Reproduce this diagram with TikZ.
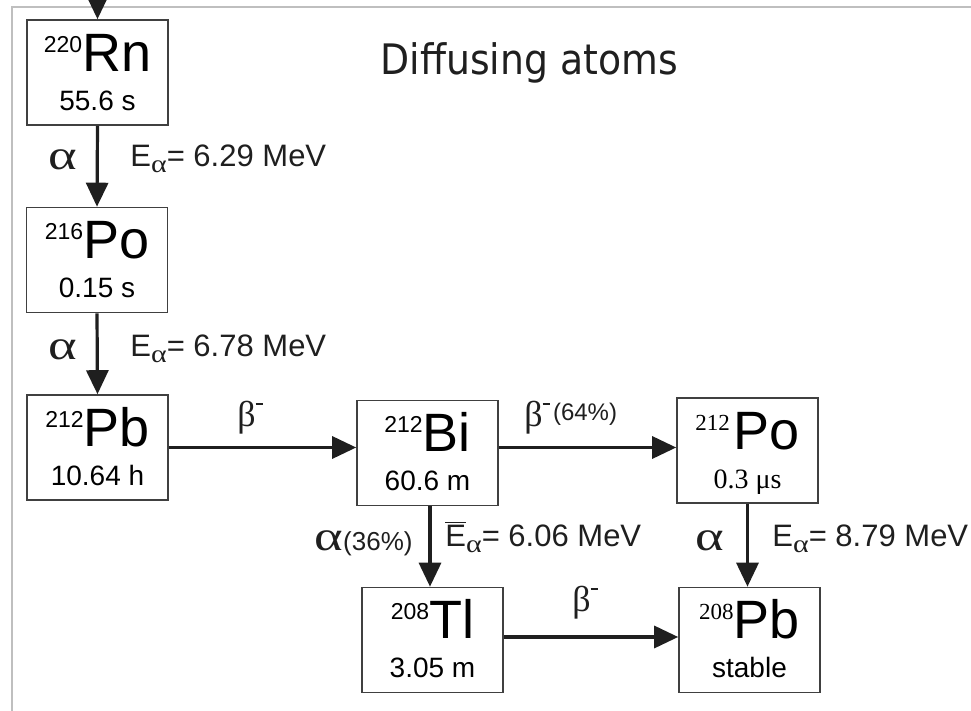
\documentclass[tikz,border=0pt]{standalone}
\usepackage{fontspec}
\usepackage{graphicx}
\setmainfont{Liberation Sans}
\newfontfamily\grk{Liberation Serif}
\newfontfamily\titlefont[FakeStretch=0.9]{DejaVu Sans}
\usetikzlibrary{arrows.meta}

\newcommand{\fs}[1]{\fontsize{#1}{#1}\selectfont}
\newcommand{\alphasym}{\scalebox{1.3}[1]{\grk\fs{21}α}}
\newcommand{\subalpha}{\raisebox{-3pt}{\scalebox{1.2}[1]{\grk\fs{12.5}α}}}
\newcommand{\Ealpha}[1]{\fs{15.5}E\subalpha= #1 MeV}
\newcommand{\betaminus}{{\grk\fs{18}β}\raisebox{11pt}{\rule{3.5pt}{0.7pt}}}
% box with mass number, symbol and half-life
\newcommand{\nuclide}[5]{%
  \node[nucbox] (#1) at (#2) {};
  \node[anchor=base, inner sep=0pt] (#1-top) at ([yshift=-26pt]#1.north)
    {\raisebox{9.5pt}{\fs{11.5}#3}\fs{27}#4};
  \node[anchor=base, inner sep=0pt] (#1-hl) at ([yshift=-45.5pt]#1.north)
    {\fs{14}#5};
}

\tikzset{
  nucbox/.style={draw=black!75, line width=0.8pt, minimum width=70.5pt,
    minimum height=52.5pt, inner sep=0pt},
  decay/.style={-{Triangle[width=11pt,length=12pt]}, line width=1.6pt,
    draw=black!88},
  frame/.style={draw=black!25, line width=1.4pt},
  lbl/.style={inner sep=0pt, text=black!88}
}

\begin{document}
\begin{tikzpicture}[x=0.5pt, y=-0.5pt]
  \useasboundingbox (0,0) rectangle (971,711);

  % frame
  \draw[frame] (12,711) -- (12,7) -- (971,7);

  \node[lbl, anchor=base west] (title) at (380,75)
    {\titlefont\fs{21}Diffusing atoms};

  \nuclide{rn}{97.5,72.5}{220}{Rn}{55.6 s}
  \nuclide{poa}{97,260}{216}{Po}{0.15 s}
  \nuclide{pba}{97.5,447.5}{212}{Pb}{10.64 h}
  \nuclide{bi}{427.5,453}{212}{Bi}{60.6 m}
  \nuclide{tl}{432.5,640}{208}{Tl}{3.05 m}
  \nuclide{pob}{747.5,450.5}{{\grk 212}\,}{Po}{{\grk 0.3 μs}}
  \nuclide{pbb}{749.5,640}{{\grk 208}}{Pb}{stable}

  \coordinate (feed) at (97.5,0);

  % decays
  \draw[decay] (feed) -- (rn.north);
  \draw[decay] (rn.south) -- (poa.north);
  \draw[decay] (poa.south) -- (pba.north);
  \draw[decay] (pba.east) -- (pba.east -| bi.west);
  \draw[decay] (bi.east |- pba.east) -- (pba.east -| pob.west);
  \draw[decay] (bi.south -| 430,0) -- (tl.north -| 430,0);
  \draw[decay] (pob.south) -- (pob.south |- pbb.north);
  \draw[decay] (tl.east |- 0,637) -- (pbb.west |- 0,637);

  % labels
  \node[lbl] (a1) at (63,160) {\alphasym};
  \node[lbl, anchor=base west] (e1) at (130,167) {\Ealpha{6.29}};
  \node[lbl] (a2) at (63,350) {\alphasym};
  \node[lbl, anchor=base west] (e2) at (130,357) {\Ealpha{6.78}};
  \node[lbl] (b1) at (250,418) {\betaminus};
  \node[lbl, anchor=west] (b2) at (524,418) {\betaminus\,\raisebox{3pt}{\fs{12}(64\%)}};
  \node[lbl, anchor=east] (a3) at (413,543) {\alphasym\fs{13}(36\%)};
  \node[lbl, anchor=base west] (e3) at (445,547)
    {\fs{15.5}$\overline{\hbox{E}}$\subalpha= 6.06 MeV};
  \node[lbl] (a4) at (710,541) {\alphasym};
  \node[lbl, anchor=base west] (e4) at (772,547) {\Ealpha{8.79}};
  \node[lbl] (b3) at (585,603) {\betaminus};
\end{tikzpicture}
\end{document}
